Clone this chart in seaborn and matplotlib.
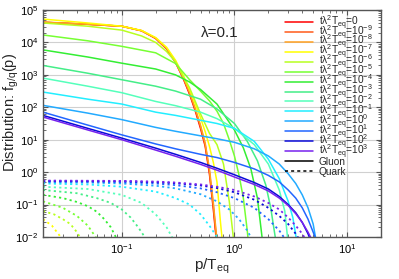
import numpy as np
import pandas as pd
import matplotlib
matplotlib.use("Agg")
import matplotlib.pyplot as plt
import seaborn as sns

# ---------------- data (log10 of f) ----------------
time_labels = ['0', '10$^{-9}$', '10$^{-8}$', '10$^{-7}$', '10$^{-6}$', '10$^{-5}$',
               '10$^{-4}$', '10$^{-3}$', '10$^{-2}$', '10$^{-1}$', '10$^{0}$',
               '10$^{1}$', '10$^{2}$', '10$^{3}$']

# gluons
g_p_t0 = [0.02, 0.05, 0.1, 0.15, 0.2, 0.25, 0.3, 0.35, 0.4, 0.45, 0.5, 0.55, 0.6, 0.65, 0.7]
g_lf_t0 = [4.62, 4.56, 4.50, 4.36, 4.12, 3.80, 3.38, 2.90, 2.40, 1.88, 1.35, 0.80, -0.05, -1.15, -2.3]
g_p_m9 = [0.02, 0.05, 0.1, 0.15, 0.2, 0.25, 0.3, 0.35, 0.4, 0.45, 0.5, 0.55, 0.6, 0.65, 0.7]
g_lf_m9 = [4.62, 4.56, 4.50, 4.36, 4.13, 3.81, 3.40, 2.92, 2.43, 1.92, 1.40, 0.85, 0.02, -1.05, -2.2]
g_p_m8 = [0.02, 0.05, 0.1, 0.15, 0.2, 0.25, 0.3, 0.35, 0.4, 0.45, 0.5, 0.55, 0.6, 0.65, 0.7]
g_lf_m8 = [4.63, 4.56, 4.50, 4.36, 4.13, 3.82, 3.42, 2.95, 2.46, 1.96, 1.45, 0.90, 0.10, -0.95, -2.1]
g_p_m7 = [0.02, 0.05, 0.1, 0.15, 0.2, 0.25, 0.3, 0.35, 0.4, 0.45, 0.5, 0.55, 0.6, 0.65, 0.7, 0.75, 0.8]
g_lf_m7 = [4.72, 4.60, 4.50, 4.37, 4.15, 3.85, 3.45, 3.00, 2.55, 2.10, 1.68, 1.25, 0.80, 0.30, -0.30, -1.5, -2.5]
g_p_m6 = [0.02, 0.05, 0.1, 0.15, 0.2, 0.25, 0.3, 0.35, 0.4, 0.5, 0.6, 0.7, 0.8, 0.9, 1.0]
g_lf_m6 = [4.60, 4.50, 4.38, 4.20, 4.00, 3.72, 3.40, 2.95, 2.60, 1.80, 1.20, 0.85, 0.25, -0.9, -2.3]
g_p_m5 = [0.02, 0.05, 0.1, 0.2, 0.3, 0.4, 0.5, 0.6, 0.7, 0.8, 0.9, 1.0, 1.1, 1.2, 1.3, 1.4]
g_lf_m5 = [4.23, 4.05, 3.88, 3.68, 3.35, 2.85, 2.50, 2.20, 1.88, 1.50, 1.00, 0.50, -0.10, -0.80, -1.8, -3.0]
g_p_m4 = [0.02, 0.05, 0.1, 0.2, 0.3, 0.4, 0.5, 0.7, 1.0, 1.2, 1.4, 1.6, 1.8]
g_lf_m4 = [3.77, 3.55, 3.36, 3.18, 3.00, 2.78, 2.55, 2.10, 1.30, 0.75, 0.10, -0.80, -2.3]
g_p_m3 = [0.02, 0.05, 0.1, 0.2, 0.3, 0.5, 0.7, 1.0, 1.3, 1.6, 1.9, 2.1, 2.35]
g_lf_m3 = [3.29, 3.05, 2.85, 2.65, 2.50, 2.25, 1.95, 1.50, 0.95, 0.35, -0.40, -1.10, -2.2]
g_p_m2 = [0.02, 0.05, 0.1, 0.2, 0.3, 0.5, 0.7, 1.0, 1.5, 2.0, 2.5, 2.8, 3.0]
g_lf_m2 = [2.90, 2.65, 2.45, 2.18, 2.05, 1.85, 1.65, 1.35, 0.85, 0.25, -0.55, -1.20, -2.2]
g_p_m1 = [0.02, 0.05, 0.1, 0.2, 0.3, 0.5, 0.7, 1.0, 1.5, 2.0, 2.5, 3.0, 3.3, 3.6]
g_lf_m1 = [2.47, 2.25, 2.10, 1.85, 1.75, 1.60, 1.50, 1.35, 0.95, 0.40, -0.20, -0.90, -1.40, -2.2]
g_p_p0 = [0.02, 0.05, 0.1, 0.2, 0.3, 0.5, 0.7, 1.0, 1.5, 2.0, 2.5, 3.0, 3.5, 4.0, 4.5, 5.0, 5.3]
g_lf_p0 = [2.06, 1.82, 1.62, 1.38, 1.26, 1.12, 1.03, 0.92, 0.72, 0.50, 0.25, -0.05, -0.35, -0.70, -1.10, -1.60, -2.1]
g_p_p1 = [0.02, 0.05, 0.1, 0.2, 0.3, 0.5, 0.7, 1.0, 1.5, 2.0, 2.5, 3.0, 3.5, 4.0, 4.5, 5.0, 5.4]
g_lf_p1 = [1.85, 1.45, 1.15, 0.87, 0.72, 0.55, 0.45, 0.30, 0.10, -0.10, -0.30, -0.55, -0.80, -1.10, -1.45, -1.85, -2.15]
g_p_p2 = [0.02, 0.05, 0.1, 0.2, 0.3, 0.5, 0.7, 1.0, 1.5, 2.0, 2.5, 3.0, 3.5, 4.0, 4.5, 4.8]
g_lf_p2 = [1.75, 1.35, 1.05, 0.74, 0.55, 0.30, 0.12, -0.08, -0.32, -0.52, -0.75, -1.00, -1.25, -1.55, -1.90, -2.15]
g_p_p3 = [0.02, 0.05, 0.1, 0.2, 0.3, 0.5, 0.7, 1.0, 1.5, 2.0, 2.5, 3.0, 3.5, 4.0, 4.5, 4.9]
g_lf_p3 = [1.70, 1.30, 1.00, 0.68, 0.49, 0.24, 0.06, -0.15, -0.38, -0.58, -0.80, -1.03, -1.28, -1.55, -1.85, -2.1]

# quarks (t=0 .. 1e-8 are below the axis range)
q_p_m7 = [0.02, 0.024, 0.028, 0.032]
q_lf_m7 = [-1.45, -1.65, -1.95, -2.3]
q_p_m6 = [0.02, 0.025, 0.03, 0.035, 0.04, 0.045]
q_lf_m6 = [-1.20, -1.30, -1.45, -1.60, -1.85, -2.15]
q_p_m5 = [0.02, 0.03, 0.04, 0.05, 0.06]
q_lf_m5 = [-0.90, -1.10, -1.35, -1.65, -2.05]
q_p_m4 = [0.02, 0.03, 0.04, 0.05, 0.06, 0.07, 0.08, 0.09]
q_lf_m4 = [-0.70, -0.80, -0.92, -1.05, -1.22, -1.45, -1.70, -2.05]
q_p_m3 = [0.02, 0.04, 0.06, 0.08, 0.1, 0.12, 0.14, 0.16, 0.18]
q_lf_m3 = [-0.55, -0.65, -0.80, -0.95, -1.15, -1.40, -1.70, -2.00, -2.3]
q_p_m2 = [0.02, 0.05, 0.1, 0.15, 0.2, 0.25, 0.3]
q_lf_m2 = [-0.45, -0.52, -0.70, -0.95, -1.30, -1.70, -2.2]
q_p_m1 = [0.02, 0.05, 0.1, 0.2, 0.3, 0.4, 0.5, 0.6, 0.7, 0.75]
q_lf_m1 = [-0.35, -0.38, -0.45, -0.60, -0.80, -1.00, -1.30, -1.65, -2.00, -2.3]
q_p_p0 = [0.02, 0.05, 0.1, 0.2, 0.3, 0.5, 0.7, 0.9, 1.1, 1.3, 1.5]
q_lf_p0 = [-0.31, -0.32, -0.35, -0.42, -0.50, -0.68, -0.90, -1.15, -1.45, -1.80, -2.2]
q_p_p1 = [0.02, 0.1, 0.2, 0.3, 0.5, 0.7, 1.0, 1.5, 2.0, 2.5, 3.0]
q_lf_p1 = [-0.29, -0.31, -0.35, -0.40, -0.50, -0.62, -0.80, -1.10, -1.45, -1.80, -2.2]
q_p_p2 = [0.02, 0.1, 0.2, 0.3, 0.5, 0.7, 1.0, 1.5, 2.0, 2.5, 3.0, 3.5, 3.8]
q_lf_p2 = [-0.27, -0.28, -0.31, -0.34, -0.41, -0.49, -0.62, -0.85, -1.10, -1.35, -1.60, -1.90, -2.1]
q_p_p3 = [0.02, 0.1, 0.2, 0.3, 0.5, 0.7, 1.0, 1.5, 2.0, 2.5, 3.0, 3.5, 4.0, 4.5]
q_lf_p3 = [-0.26, -0.27, -0.29, -0.32, -0.38, -0.45, -0.55, -0.75, -0.95, -1.15, -1.40, -1.65, -1.90, -2.2]

# ---------------- style ----------------
colors = ['#ff0000', '#ff5a1a', '#ffa020', '#ffff00', '#b8ff20', '#77ff33',
          '#33ee33', '#44ee88', '#55ffbb', '#22eeff', '#22aaff', '#2266ff',
          '#0a0ad8', '#7722ee']

gluon_sets = [(g_p_t0, g_lf_t0), (g_p_m9, g_lf_m9), (g_p_m8, g_lf_m8), (g_p_m7, g_lf_m7),
              (g_p_m6, g_lf_m6), (g_p_m5, g_lf_m5), (g_p_m4, g_lf_m4), (g_p_m3, g_lf_m3),
              (g_p_m2, g_lf_m2), (g_p_m1, g_lf_m1), (g_p_p0, g_lf_p0), (g_p_p1, g_lf_p1),
              (g_p_p2, g_lf_p2), (g_p_p3, g_lf_p3)]
quark_sets = [None, None, None, (q_p_m7, q_lf_m7), (q_p_m6, q_lf_m6), (q_p_m5, q_lf_m5),
              (q_p_m4, q_lf_m4), (q_p_m3, q_lf_m3), (q_p_m2, q_lf_m2), (q_p_m1, q_lf_m1),
              (q_p_p0, q_lf_p0), (q_p_p1, q_lf_p1), (q_p_p2, q_lf_p2), (q_p_p3, q_lf_p3)]

sns.set_style('ticks')
plt.rcParams['font.family'] = ['Liberation Sans', 'DejaVu Sans']
plt.rcParams['mathtext.fontset'] = 'custom'
plt.rcParams['mathtext.rm'] = 'Liberation Sans'
plt.rcParams['mathtext.it'] = 'Liberation Sans'
plt.rcParams['mathtext.default'] = 'regular'

W, H = 399, 279
AX_L, AX_R, AX_T, AX_B = 43, 381, 10, 237
fig = plt.figure(figsize=(W / 100, H / 100), dpi=100)
ax = fig.add_axes([AX_L / W, 1 - AX_B / H, (AX_R - AX_L) / W, (AX_B - AX_T) / H])

GLUON_LS = '-'
QUARK_LS = (0, (1.2, 1.8))

for i in range(len(time_labels)):
    p, lf = gluon_sets[i]
    df = pd.DataFrame({'p': p, 'f': 10.0 ** np.array(lf)})
    sns.lineplot(data=df, x='p', y='f', ax=ax, color=colors[i], lw=1.1,
                 sort=False, estimator=None, legend=False)
for i in range(len(time_labels)):
    if quark_sets[i] is None:
        continue
    p, lf = quark_sets[i]
    df = pd.DataFrame({'p': p, 'f': 10.0 ** np.array(lf)})
    sns.lineplot(data=df, x='p', y='f', ax=ax, color=colors[i], lw=1.3,
                 linestyle=QUARK_LS, sort=False, estimator=None, legend=False)

ax.set_xscale('log')
ax.set_yscale('log')
ax.set_xlim(0.02, 20)
ax.set_ylim(1e-2, 1e5)
ax.grid(True, which='major', color='#d0d0d0', lw=0.8)
ax.set_axisbelow(True)
for s in ax.spines.values():
    s.set_color('#555555')
    s.set_linewidth(1.0)
ax.tick_params(which='both', direction='in', top=True, right=True, colors='#555555',
               labelcolor='black', labelsize=8)
ax.tick_params(which='major', length=3.5)
ax.tick_params(which='minor', length=2)
ax.yaxis.set_major_locator(matplotlib.ticker.LogLocator(base=10, numticks=20))
ax.yaxis.set_minor_locator(matplotlib.ticker.LogLocator(base=10, subs=np.arange(2, 10), numticks=20))

ax.set_xlabel('p/T$_{eq}$', fontsize=11, labelpad=1)
ax.set_ylabel('Distribution: f$_{g/q}$(p)', fontsize=10.5)
ax.yaxis.set_label_coords((21 - AX_L) / (AX_R - AX_L), (AX_B - 112) / (AX_B - AX_T))
ax.text(0.524, 0.90, 'λ=0.1', transform=ax.transAxes, fontsize=11, ha='center', va='center')

# ---- legend, laid out entry by entry (tight MATLAB-like spacing) ----
def ax_x(px):
    return (px - AX_L) / (AX_R - AX_L)

def ax_y(py):
    return (AX_B - py) / (AX_B - AX_T)

labels = ['tλ$^2$T$_{eq}$=' + t for t in time_labels] + ['Gluon', 'Quark']
leg_colors = colors + ['black', 'black']
leg_styles = [GLUON_LS] * (len(time_labels) + 1) + [(0, (2, 2))]
for k, (lab, c, ls) in enumerate(zip(labels, leg_colors, leg_styles)):
    y_line = 22 + 9.93 * k
    ax.plot([ax_x(285), ax_x(313)], [ax_y(y_line), ax_y(y_line)], transform=ax.transAxes,
            color=c, lw=1.1, linestyle=ls, clip_on=False)
    ax.text(ax_x(319), ax_y(y_line + 3.8), lab, transform=ax.transAxes, fontsize=7.3,
            ha='left', va='baseline')

fig.savefig('out.png', dpi=100)
